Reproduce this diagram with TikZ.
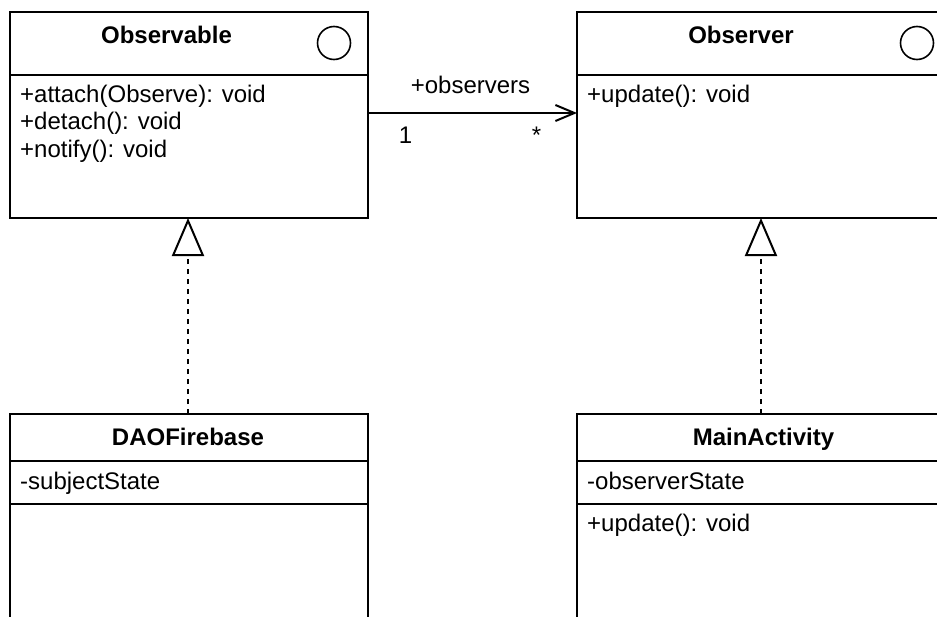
\documentclass[tikz,border=0pt]{standalone}
\usepackage{fontspec}
\setmainfont{Liberation Sans}
\usetikzlibrary{arrows.meta}
\begin{document}
\begin{tikzpicture}[x=1pt,y=-1pt,
  classbox/.style={draw, rectangle, line width=2pt, inner sep=0pt, outer sep=0pt},
  divider/.style={line width=2pt},
  icon/.style={draw, circle, line width=1.6pt, minimum size=33pt, inner sep=0pt},
  title/.style={font=\fontsize{24}{28}\selectfont\bfseries, anchor=base, inner sep=0pt},
  member/.style={font=\fontsize{24}{28}\selectfont, anchor=base west, inner sep=0pt},
  lbl/.style={font=\fontsize{24}{28}\selectfont, anchor=base, inner sep=0pt},
  realize/.style={line width=2pt, dash pattern=on 5pt off 5pt,
    -{Triangle[open, length=38pt, width=32pt]}},
  assoc/.style={line width=2pt, -{Straight Barb[length=19pt, width=16pt]}}
]
\useasboundingbox (0,0) rectangle (937,616);
\fill[white] (0,0) rectangle (937,616);
\clip (0,0) rectangle (937,616);

% class boxes
\node[classbox, minimum width=358pt, minimum height=206pt] (obsable) at (189,115) {};
\node[classbox, minimum width=374pt, minimum height=206pt] (obsver) at (764,115) {};
\node[classbox, minimum width=358pt, minimum height=236pt] (dao) at (189,532) {};
\node[classbox, minimum width=374pt, minimum height=236pt] (mainact) at (764,532) {};

% compartment dividers
\draw[divider] (obsable.west |- 0,75) -- (obsable.east |- 0,75);
\draw[divider] (obsver.west |- 0,75) -- (obsver.east |- 0,75);
\draw[divider] (dao.west |- 0,461) -- (dao.east |- 0,461);
\draw[divider] (dao.west |- 0,504) -- (dao.east |- 0,504);
\draw[divider] (mainact.west |- 0,461) -- (mainact.east |- 0,461);
\draw[divider] (mainact.west |- 0,504) -- (mainact.east |- 0,504);

% interface icons
\node[icon] (obsableicon) at (334,43) {};
\node[icon] (obsvericon) at (917,43) {};

% titles
\node[title] (obsabletitle) at (166.5,43) {Observable};
\node[title] (obsvertitle) at (741,43) {Observer};
\node[title] (daotitle) at (188,445) {DAOFirebase};
\node[title] (mainacttitle) at (763.5,445) {MainActivity};

% members
\node[member] (obsm1) at (20,102) {+attach(Observe): void};
\node[member] (obsm2) at (20,129.5) {+detach(): void};
\node[member] (obsm3) at (20,157) {+notify(): void};
\node[member] (verm1) at (587,102) {+update(): void};
\node[member] (daoa1) at (20,489) {-subjectState};
\node[member] (maina1) at (587,489) {-observerState};
\node[member] (mainm1) at (587,531) {+update(): void};

% association
\draw[assoc] ([yshift=2pt]obsable.east) -- ([yshift=2pt]obsver.west);
\node[lbl] (rolename) at (470.5,93) {+observers};
\node[lbl] (multsrc) at (405.5,143) {1};
\node[lbl] (multdst) at (536.5,143) {*};

% realizations
\draw[realize] ([xshift=-1pt]dao.north) -- ([xshift=-1pt]obsable.south);
\draw[realize] ([xshift=-3pt]mainact.north) -- ([xshift=-3pt]obsver.south);
\end{tikzpicture}
\end{document}
